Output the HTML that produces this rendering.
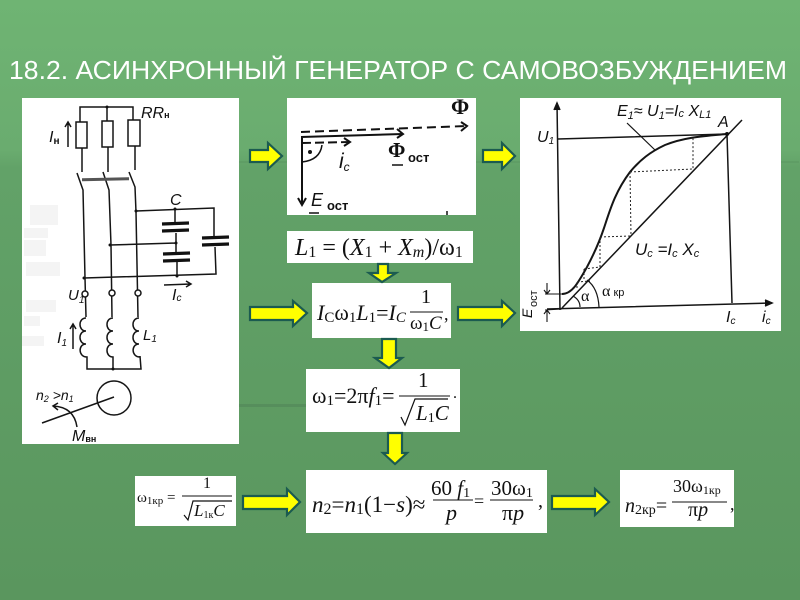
<!DOCTYPE html>
<html><head><meta charset="utf-8">
<style>
html,body{margin:0;padding:0;background:#5c9a61}
svg{display:block}
.s{font-family:"Liberation Serif",serif}
.i{font-family:"Liberation Sans",sans-serif;font-style:italic;fill:#111}
.m{font-family:"Liberation Serif",serif;fill:#111}
.it{font-style:italic}
.w{stroke:#151515;fill:none;stroke-width:1.5}
.a{fill:#ffff00;stroke:#1b5b50;stroke-width:2.2}
.d{stroke:#222;fill:none;stroke-width:1;stroke-dasharray:2 2}
</style></head><body>
<svg width="800" height="600" viewBox="0 0 800 600" xmlns="http://www.w3.org/2000/svg">
<defs><linearGradient id="bg" x1="0" y1="0" x2="0" y2="1">
<stop offset="0" stop-color="#6fb473"/><stop offset=".25" stop-color="#6aac6f"/><stop offset=".28" stop-color="#62a268"/><stop offset="1" stop-color="#5a965e"/></linearGradient></defs>
<rect width="800" height="600" fill="url(#bg)"/>
<rect x="239" y="161" width="560" height="2" fill="#5a9560" opacity=".5"/>
<rect x="239" y="404" width="70" height="3" fill="#52895a" opacity=".7"/>

<text x="9" y="79" textLength="778" lengthAdjust="spacingAndGlyphs" font-family="Liberation Sans,sans-serif" font-size="25.500" fill="#fff">18.2. АСИНХРОННЫЙ ГЕНЕРАТОР С САМОВОЗБУЖДЕНИЕМ</text>

<!-- panels -->
<g fill="#fff">
<rect x="22" y="98" width="217" height="346"/>
<rect x="287" y="98" width="189" height="117"/>
<rect x="287" y="231" width="186" height="32"/>
<rect x="312" y="283" width="139" height="55"/>
<rect x="306" y="369" width="154" height="63"/>
<rect x="135" y="476" width="101" height="50"/>
<rect x="306" y="470" width="241" height="63"/>
<rect x="620" y="470" width="114" height="57"/>
<rect x="520" y="98" width="261" height="233"/>
</g>

<!-- arrows -->
<polygon class="a" points="250,150 268,150 268,143 282,156 268,169 268,162 250,162"/>
<polygon class="a" points="483,150 502,150 502,143 515,156 502,169 502,162 483,162"/>
<polygon class="a" points="250,307 293,307 293,301 307,313 293,326 293,320 250,320"/>
<polygon class="a" points="458,307 502,307 502,301 515,313 502,326 502,320 458,320"/>
<polygon class="a" points="243,496 287,496 287,489 300,502 287,515 287,509 243,509"/>
<polygon class="a" points="552,496 595,496 595,489 609,502 595,515 595,509 552,509"/>
<polygon class="a" points="378,264 388,264 388,273 396,273 382,282 369,273 378,273"/>
<polygon class="a" points="382,339 396,339 396,358 402,358 389,368 375,358 382,358"/>
<polygon class="a" points="388,433 402,433 402,453 407,453 395,464 383,453 388,453"/>

<!-- left circuit -->
<g class="w">
<path d="M80 122V107H133V120M107 107V121"/>
<rect x="76" y="122" width="11" height="26"/><rect x="102" y="121" width="11" height="26"/><rect x="128" y="120" width="12" height="26"/>
<path d="M82 148V172M108 147V172M135 146V170"/>
<path d="M77 173L83 190L85 278L86 317"/>
<path d="M103 172L109 190L111 245L112 317"/>
<path d="M129 172L135 187L136 212L138 317"/>
<path d="M82 179L129 178M82 180.500L129 179.500" stroke="#555"/>
<path d="M136 211L214 208V237M215 247L216 274L84 278"/>
<path d="M175 209V223M176 233V253M177 262V276M110 245L176 243"/>
<path d="M86 318c-8 0-8 13 0 13c-8 0-8 13 0 13c-8 0-8 13 1 13V369H141L140 356M113 318c-8 0-8 13 0 13c-8 0-8 13 0 13c-8 0-8 13 0 13V369M139 318c-8 0-8 13 0 13c-8 0-8 13 0 13c-8 0-8 13 1 13"/>
<circle cx="85" cy="294" r="3" fill="#fff"/><circle cx="112" cy="293" r="3" fill="#fff"/><circle cx="138" cy="293" r="3" fill="#fff"/>
<circle cx="114" cy="398" r="17"/>
<path d="M42 423L114 397M77 427Q74 407 53 406M58 403L53 406L58 410"/>
<path d="M68 147V122M65 127L68 122L71 127M73 349V324M70 329L73 324L76 329M164 285L191 284M186 281L191 284L186 287"/>
</g>
<g stroke="#111" stroke-width="3.200">
<path d="M162 224L189 223M162 231L189 230M163 254L190 253M163 261L190 260M202 238L229 237M202 245L229 244"/>
</g>
<g fill="#111"><circle cx="107" cy="107" r="1.500"/><circle cx="136" cy="211" r="1.500"/><circle cx="175" cy="209" r="1.500"/><circle cx="110" cy="245" r="1.500"/><circle cx="176" cy="243" r="1.500"/><circle cx="84" cy="278" r="1.500"/><circle cx="177" cy="276" r="1.500"/><circle cx="113" cy="369" r="1.500"/></g>
<g fill="#ccc" opacity=".2">
<rect x="30" y="205" width="28" height="20"/><rect x="24" y="228" width="24" height="10"/><rect x="24" y="240" width="22" height="16"/><rect x="26" y="262" width="34" height="14"/><rect x="26" y="300" width="30" height="12"/><rect x="24" y="316" width="16" height="10"/><rect x="22" y="336" width="22" height="10"/>
</g>
<g class="i" font-size="16">
<text x="49" y="142">I<tspan font-size="10" font-style="normal" font-weight="bold" dy="2">н</tspan></text>
<text x="141" y="118">RR<tspan font-size="9" font-style="normal" font-weight="bold" dy="0">н</tspan></text>
<text x="170" y="205">C</text>
<text x="68" y="300" font-size="15">U<tspan font-size="10" dy="3">1</tspan></text>
<text x="172" y="300" font-size="16">I<tspan font-size="10" dy="1">c</tspan></text>
<text x="57" y="343">I<tspan font-size="10" dy="3">1</tspan></text>
<text x="143" y="340" font-size="15">L<tspan font-size="10" dy="2">1</tspan></text>
<text x="36" y="400" font-size="14">n<tspan font-size="9" dy="2">2</tspan><tspan dy="-2"> &gt;n</tspan><tspan font-size="9" dy="2">1</tspan></text>
<text x="72" y="441" font-size="16">M<tspan font-size="9" font-style="normal" font-weight="bold" dy="1">вн</tspan></text>
</g>

<!-- panel 2 -->
<g stroke="#111" fill="none" stroke-width="2">
<path d="M301 132L467 126" stroke-dasharray="9 5"/>
<path d="M461 122L467 126L461 131M397 129L403 134L397 138M344 138L350 142L344 146M298 198L302 205L306 198"/>
<path d="M301 137L403 134M302 137V205"/>
<path d="M302 143L350 142" stroke-dasharray="9 4"/>
<path d="M302 162Q320 160 322 145" stroke-width="1.500"/>
<path d="M392 165H403M309 213H319M447 211V215" stroke-width="1.500"/>
</g>
<circle cx="310" cy="152" r="2" fill="#111"/>
<g fill="#111" font-family="Liberation Sans,sans-serif" font-weight="bold">
<text x="451" y="114" font-family="Liberation Serif,serif" font-size="22">Φ</text>
<text x="388" y="157" font-family="Liberation Serif,serif" font-size="21">Φ</text>
<text x="408" y="162" font-size="13">ост</text>
<text x="339" y="168" font-size="21" font-style="italic" font-weight="normal">i<tspan font-size="12" dy="3">c</tspan></text>
<text x="311" y="206" font-size="18" font-style="italic" font-weight="normal">E</text>
<text x="327" y="210" font-size="13">ост</text>
</g>

<!-- formulas -->
<g class="m">
<text x="295" y="255" font-size="24"><tspan class="it">L</tspan><tspan font-size="16" dy="2">1</tspan><tspan dy="-2"> = (</tspan><tspan class="it">X</tspan><tspan font-size="16" dy="2">1</tspan><tspan dy="-2"> + </tspan><tspan class="it">X</tspan><tspan class="it" font-size="16" dy="2">m</tspan><tspan dy="-2">)/ω</tspan><tspan font-size="16" dy="2">1</tspan></text>

<text x="317" y="320" font-size="22"><tspan class="it">I</tspan><tspan font-size="15" dy="2">C</tspan><tspan dy="-2">ω</tspan><tspan font-size="15" dy="2">1</tspan><tspan class="it" dy="-2">L</tspan><tspan font-size="15" dy="2">1</tspan><tspan dy="-2">=</tspan><tspan class="it">I</tspan><tspan class="it" font-size="15" dy="2">C</tspan></text>
<path d="M410 312H443M399 396H450M182 496H232M433 500H473M490 500H533M672 502H727" stroke="#111" stroke-width="1" fill="none"/>
<text x="421" y="303" font-size="20">1</text>
<text x="410" y="329" font-size="19">ω<tspan font-size="13" dy="2">1</tspan><tspan class="it" dy="-2">C</tspan></text>
<text x="444" y="320" font-size="18">,</text>

<text x="312" y="403" font-size="22">ω<tspan font-size="15" dy="2">1</tspan><tspan dy="-2">=2π</tspan><tspan class="it">f</tspan><tspan font-size="15" dy="2">1</tspan><tspan dy="-2">=</tspan></text>
<text x="418" y="387" font-size="21">1</text>
<path d="M401 417L405 425L415 399H448" stroke="#111" stroke-width="1.200" fill="none"/>
<text x="416" y="420" font-size="21"><tspan class="it">L</tspan><tspan font-size="14" dy="2">1</tspan><tspan class="it" dy="-2">C</tspan></text>
<text x="453" y="398" font-size="16">.</text>

<text x="137" y="502" font-size="15">ω<tspan font-size="11" dy="2">1кр</tspan><tspan dy="-2" font-size="15"> =</tspan></text>
<text x="203" y="488" font-size="16">1</text>
<path d="M184 515L188 520L193 501H232" stroke="#111" stroke-width="1.200" fill="none"/>
<text x="194" y="516" font-size="17"><tspan class="it">L</tspan><tspan font-size="10" dy="2">1к</tspan><tspan class="it" dy="-2">C</tspan></text>

<text x="312" y="512" font-size="23"><tspan class="it">n</tspan><tspan font-size="16" dy="2">2</tspan><tspan dy="-2">=</tspan><tspan class="it">n</tspan><tspan font-size="16" dy="2">1</tspan><tspan dy="-2">(1−</tspan><tspan class="it">s</tspan><tspan>)≈</tspan></text>
<text x="431" y="495" font-size="21">60<tspan class="it"> f</tspan><tspan font-size="14" dy="2">1</tspan></text>
<text x="446" y="520" font-size="22" class="it">p</text>
<text x="474" y="507" font-size="18">=</text>
<text x="491" y="495" font-size="21">30ω<tspan font-size="14" dy="2">1</tspan></text>
<text x="502" y="520" font-size="22">π<tspan class="it">p</tspan></text>
<text x="538" y="507" font-size="20">,</text>

<text x="625" y="512" font-size="20"><tspan class="it">n</tspan><tspan font-size="14" dy="2">2кр</tspan><tspan dy="-2">=</tspan></text>
<text x="673" y="492" font-size="18">30ω<tspan font-size="12" dy="2">1кр</tspan></text>
<text x="688" y="516" font-size="20">π<tspan class="it">p</tspan></text>
<text x="730" y="510" font-size="18">,</text>
</g>

<!-- right chart -->
<g stroke="#151515" fill="none" stroke-width="1.500">
<path d="M560 310L557 103M547 309L772 303M558 139L727 134L732 303M562 308L742 120"/>
<path d="M554 110L557 103L560 110" fill="#111"/>
<path d="M765 300L772 303L765 306" fill="#111"/>
<path d="M562 294C572 294 578 283 587 267C595 252 600 240 604 228C610 210 615 192 630 172C640 160 650 152 665 145C685 137 705 136 727 134" stroke-width="2"/>
<path d="M627 123L655 150" stroke-width="1.200"/>
<path d="M545 294H562M545 310L562 309M547 283V294M547 322V310M544 290L547 294L550 290M544 314L547 310L550 314" stroke-width="1.100"/>
<path d="M580 307Q580 300 573 296M599 307Q598 288 587 280" stroke-width="1.200"/>
</g>
<path class="d" d="M630 172L693 169V138M630 172L631 236M600 237L631 236M600 237V267M584 269L600 267M584 269V281M577 282L590 281M577 282V290"/>
<circle cx="727" cy="134" r="2" fill="#111"/>
<g class="i" font-size="16">
<text x="617" y="116" font-size="16">E<tspan font-size="11" dy="3">1</tspan><tspan dy="-3">≈ U</tspan><tspan font-size="11" dy="3">1</tspan><tspan dy="-3">=I</tspan><tspan font-size="11" dy="1">c</tspan><tspan dy="-1"> X</tspan><tspan font-size="11" dy="2">L1</tspan></text>
<text x="718" y="127">A</text>
<text x="537" y="142">U<tspan font-size="10" dy="2">1</tspan></text>
<text x="635" y="255" font-size="17">U<tspan font-size="11" dy="2">c</tspan><tspan dy="-2"> =I</tspan><tspan font-size="11" dy="2">c</tspan><tspan dy="-2"> X</tspan><tspan font-size="11" dy="2">c</tspan></text>
<text x="726" y="322">I<tspan font-size="10" dy="2">c</tspan></text>
<text x="762" y="322">i<tspan font-size="10" dy="2">c</tspan></text>
<text x="581" y="301" font-style="normal" font-family="Liberation Serif,serif">α</text>
<text x="602" y="296" font-style="normal" font-family="Liberation Serif,serif">α<tspan font-family="Liberation Sans,sans-serif" font-size="11"> кр</tspan></text>
<text transform="translate(532,318) rotate(-90)" font-size="14">E</text>
<text transform="translate(537,307) rotate(-90)" font-size="11" font-style="normal">ост</text>
</g>
</svg>
</body></html>
